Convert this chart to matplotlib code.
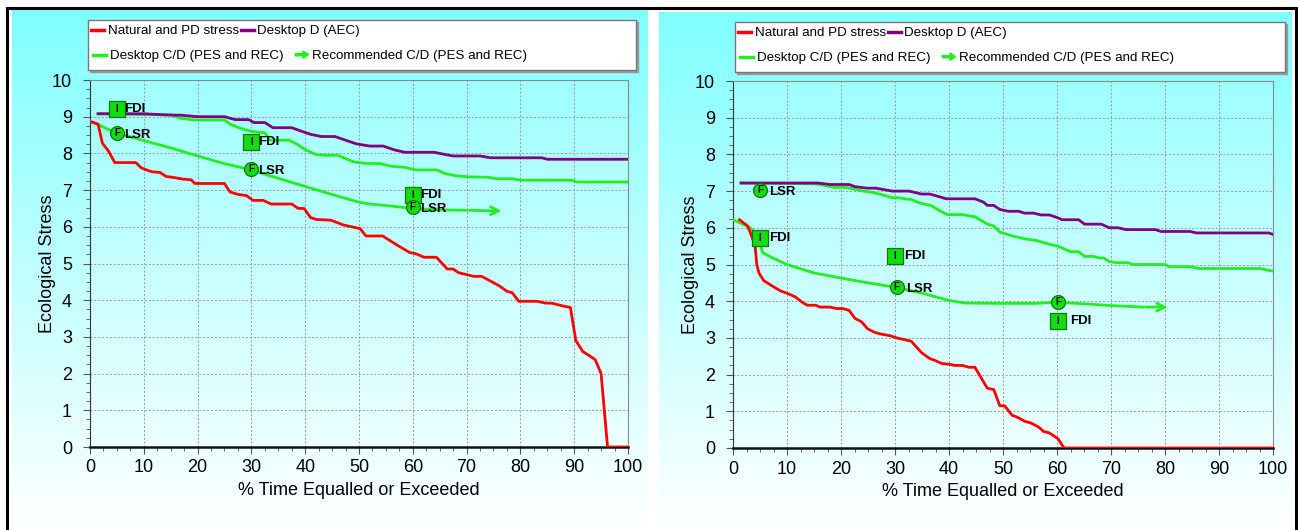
import numpy as np
import matplotlib.pyplot as plt
import matplotlib.patches as mpatches
from matplotlib.lines import Line2D
from matplotlib.legend_handler import HandlerPatch
from matplotlib.ticker import MultipleLocator

plt.rcParams['font.family'] = ['Liberation Sans', 'DejaVu Sans']

# ---- data: left panel ----
l_red_x = [0, 1.5, 2.3, 3.5, 4.6, 8.5, 9.6, 10.5, 11.5, 13, 14.2, 15.3, 17.2, 18.8, 19.5, 25, 26,
           27.6, 29.1, 30.3, 32.2, 33.7, 37.5, 38.7, 39.8, 41, 42.1, 44.8, 47.1, 50.2, 51.3, 54.4,
           57.1, 59.4, 60.5, 62.1, 64.4, 66.4, 67.5, 68.5, 71.3, 72.8, 74.7, 76.2, 77.4, 78.5, 79.7,
           83.1, 84.7, 85.8, 87.7, 89.3, 90.3, 91.6, 92.7, 93.9, 95, 96.2, 100]
l_red_y = [8.87, 8.8, 8.28, 8.05, 7.75, 7.75, 7.6, 7.55, 7.5, 7.48, 7.37, 7.35, 7.3, 7.28, 7.18,
           7.18, 6.95, 6.88, 6.85, 6.72, 6.72, 6.62, 6.62, 6.5, 6.5, 6.25, 6.2, 6.18, 6.05, 5.95,
           5.75, 5.75, 5.5, 5.3, 5.27, 5.17, 5.17, 4.85, 4.85, 4.75, 4.65, 4.65, 4.5, 4.38, 4.25,
           4.2, 3.97, 3.97, 3.92, 3.92, 3.85, 3.8, 2.9, 2.6, 2.5, 2.38, 2.0, 0, 0]
l_pur_x = [1.5, 10, 14, 17, 20, 25, 27, 29.5, 30.5, 32.5, 34, 37.5, 39, 41, 43, 45.5, 47.5, 49.5,
           52, 54.5, 56.5, 58.5, 64, 66, 67.5, 72.5, 74.5, 84, 85, 100]
l_pur_y = [9.08, 9.08, 9.05, 9.04, 9.0, 9.0, 8.92, 8.92, 8.84, 8.84, 8.7, 8.7, 8.62, 8.52, 8.46,
           8.46, 8.36, 8.26, 8.2, 8.2, 8.1, 8.03, 8.03, 7.97, 7.93, 7.93, 7.88, 7.88, 7.84, 7.84]
l_cd_x = [1.5, 15, 17, 19.5, 25, 26, 28, 30, 32.5, 33.5, 37, 38.5, 40, 42, 43.5, 46, 47.5, 49, 51,
          54, 56, 58.5, 60.5, 64.5, 66, 68, 70.5, 74, 75.5, 78.5, 80, 89.5, 90.5, 100]
l_cd_y = [9.08, 9.05, 8.95, 8.91, 8.91, 8.8, 8.68, 8.6, 8.56, 8.36, 8.36, 8.25, 8.1, 7.97, 7.95,
          7.95, 7.86, 7.77, 7.73, 7.72, 7.65, 7.62, 7.55, 7.55, 7.45, 7.39, 7.36, 7.35, 7.31,
          7.31, 7.27, 7.27, 7.22, 7.22]
l_rec_x = [0, 5, 10, 15, 20, 25, 30, 35, 40, 45, 50, 52, 55, 60, 65, 70, 77]
l_rec_y = [8.88, 8.55, 8.35, 8.15, 7.93, 7.72, 7.55, 7.32, 7.1, 6.88, 6.67, 6.62, 6.58, 6.5,
           6.46, 6.45, 6.43]
l_fdi_x = [5, 30, 60]
l_fdi_y = [9.2, 8.3, 6.86]
l_fdi_lab = ['FDI', 'FDI', 'FDI']
l_lsr_x = [5, 30, 60]
l_lsr_y = [8.56, 7.58, 6.53]
l_lsr_lab = ['LSR', 'LSR', 'LSR']

# ---- data: right panel ----
r_red_x = [1.2, 2.7, 3.4, 4.1, 4.4, 4.8, 5.7, 7.3, 8.8, 10.3, 11.5, 13, 13.8, 15.3, 16.1, 18,
           19.2, 20.3, 21.5, 22.6, 23.8, 24.9, 26.1, 27.2, 29.1, 30.3, 31.8, 33, 34.9, 36.4,
           37.5, 38.7, 40.2, 41, 42.5, 43.7, 44.8, 46, 47.1, 48.3, 49.4, 50.3, 51.7, 52.5, 54,
           55.2, 56.7, 57.5, 58.6, 60.2, 61.3, 100]
r_red_y = [6.22, 6.05, 5.8, 5.5, 5.0, 4.77, 4.56, 4.41, 4.28, 4.2, 4.12, 3.95, 3.89, 3.89, 3.84,
           3.84, 3.8, 3.8, 3.75, 3.53, 3.44, 3.25, 3.16, 3.11, 3.06, 3.0, 2.95, 2.91, 2.6,
           2.44, 2.38, 2.3, 2.28, 2.25, 2.25, 2.2, 2.2, 1.9, 1.63, 1.59, 1.15, 1.15, 0.89,
           0.85, 0.73, 0.68, 0.56, 0.45, 0.41, 0.25, 0.0, 0.0]
r_pur_x = [1.5, 15.7, 18, 21.5, 22.6, 24.9, 26.4, 29.5, 32.6, 34.9, 36.4, 37.9, 39.5, 44.8, 46.4,
           47.1, 48.3, 49.4, 51, 52.9, 54, 55.6, 57.1, 58.6, 60.2, 60.9, 64, 65.1, 68.2, 69.7,
           71.3, 72.8, 78.2, 79.3, 84.7, 85.8, 99.2, 100]
r_pur_y = [7.22, 7.22, 7.18, 7.18, 7.12, 7.08, 7.08, 7.0, 7.0, 6.92, 6.92, 6.86, 6.79, 6.79, 6.7,
           6.61, 6.61, 6.5, 6.45, 6.45, 6.4, 6.4, 6.35, 6.35, 6.27, 6.22, 6.22, 6.1, 6.1, 6.0,
           6.0, 5.95, 5.95, 5.9, 5.9, 5.86, 5.86, 5.82]
r_cd_x = [1.5, 15, 16.5, 18.8, 21, 24.1, 25.7, 27.6, 29.5, 30.6, 32.2, 32.9, 34.5, 36.8, 37.9,
          39.1, 39.8, 42.5, 44.8, 47.1, 48.3, 49.4, 50.2, 51.7, 54, 56.3, 58.6, 60.2, 61.7, 62.5,
          64, 65.1, 66.7, 67.8, 68.6, 69.7, 70.9, 73.2, 74, 80, 80.8, 84.7, 86.2, 97.7, 99.2, 100]
r_cd_y = [7.22, 7.2, 7.17, 7.1, 7.1, 7.0, 6.97, 6.9, 6.82, 6.82, 6.78, 6.78, 6.68, 6.6, 6.5, 6.4,
          6.36, 6.36, 6.3, 6.1, 6.05, 5.88, 5.85, 5.78, 5.7, 5.65, 5.55, 5.5, 5.4, 5.35, 5.35,
          5.22, 5.22, 5.18, 5.18, 5.08, 5.05, 5.05, 5.0, 5.0, 4.94, 4.94, 4.89, 4.89, 4.84, 4.82]
r_rec_x = [0, 3, 4.5, 5.5, 7, 10, 15, 20, 25, 30, 35, 40, 43, 50, 56, 60, 65, 70, 76, 81]
r_rec_y = [6.22, 6.02, 5.8, 5.32, 5.2, 5.0, 4.77, 4.63, 4.5, 4.38, 4.22, 4.02, 3.95, 3.94, 3.94,
           3.97, 3.93, 3.88, 3.84, 3.84]
r_fdi_x = [5, 30, 60.2]
r_fdi_y = [5.72, 5.22, 3.45]
r_fdi_lab = ['FDI', 'FDI', 'FDI']
r_lsr_x = [5, 30.3, 60.2]
r_lsr_y = [7.02, 4.38, 3.97]
r_lsr_lab = ['LSR', 'LSR', '']

labels = ['Natural and PD stress', 'Desktop D (AEC)',
          'Desktop C/D (PES and REC)', 'Recommended C/D (PES and REC)']
RED, PUR, GRN = '#ff0000', '#800080', '#22ee22'

W, H = 1298, 530
fig = plt.figure(figsize=(W / 100, H / 100), dpi=100)


def frect(x0, y0, x1, y1):
    # pixel box (top-left origin) -> figure rect
    return [x0 / W, 1 - y1 / H, (x1 - x0) / W, (y1 - y0) / H]


# gradient panels
grad = np.linspace(0, 1, 256).reshape(-1, 1)
for box in [(12, 10, 648, 530), (659, 12, 1292, 530)]:
    bg = fig.add_axes(frect(*box), zorder=-10)
    top = np.array([0x80, 0xff, 0xff]) / 255
    img = top[None, None, :] * (1 - grad[:, :, None]) + grad[:, :, None]
    bg.imshow(img, aspect='auto', extent=(0, 1, 0, 1))
    bg.set_axis_off()

# black frame lines
for xs, ys in [([7, 1297], [8, 8]), ([7, 7], [8, 530]), ([1296, 1296], [8, 530])]:
    fig.add_artist(Line2D([x / W for x in xs], [1 - y / H for y in ys],
                          color='black', lw=2.2, transform=fig.transFigure))


def arrow_handle(legend, orig_handle, xdescent, ydescent, width, height, fontsize):
    return mpatches.FancyArrow(0, height / 2, width, 0, width=1.6, head_width=height * 0.8,
                               head_length=height * 0.6, length_includes_head=True, color=GRN)


def panel(rect, legbox, red, pur, cd, rec, fdi, lsr, gap):
    ax = fig.add_axes(frect(*rect))
    ax.set_facecolor((1, 1, 1, 0.12))
    ax.plot(cd[0], cd[1], color=GRN, lw=2, zorder=3)
    ax.plot(rec[0][:-1], rec[1][:-1], color=GRN, lw=2, zorder=3)
    ax.annotate('', xy=(rec[0][-1], rec[1][-1]), xytext=(rec[0][-2], rec[1][-2]),
                arrowprops=dict(arrowstyle='->', color=GRN, lw=2, mutation_scale=14), zorder=3)
    ax.plot(pur[0], pur[1], color=PUR, lw=2, zorder=4)
    ax.plot(red[0], red[1], color=RED, lw=2, zorder=5)

    for (xs, ys, labs, mk, letter, dy) in [(fdi[0], fdi[1], fdi[2], 's', 'I', 0),
                                           (lsr[0], lsr[1], lsr[2], 'o', 'F', -1.5)]:
        ax.scatter(xs, ys, marker=mk, s=120 if mk == 's' else 100, color='#11dd11',
                   edgecolor='#117711', linewidth=0.9, zorder=6)
        for i, (x, y) in enumerate(zip(xs, ys)):
            ax.text(x, y, letter, ha='center', va='center', fontsize=7, fontweight='bold',
                    zorder=7)
            ax.annotate(labs[i], (x, y), xytext=(gap[i], dy), textcoords='offset points',
                        ha='left', va='center', fontsize=9.5, fontweight='bold', zorder=7)

    ax.set_xlim(0, 100)
    ax.set_ylim(0, 10)
    ax.xaxis.set_major_locator(MultipleLocator(10))
    ax.xaxis.set_minor_locator(MultipleLocator(2.5))
    ax.yaxis.set_major_locator(MultipleLocator(1))
    ax.yaxis.set_minor_locator(MultipleLocator(0.25))
    ax.tick_params(which='both', direction='out', color='#555555', labelsize=13)
    ax.tick_params(which='major', length=5)
    ax.tick_params(axis='y', which='major', pad=8)
    ax.tick_params(axis='x', which='major', pad=4)
    ax.tick_params(which='minor', length=3)
    ax.grid(True, which='major', color='#9a9a9a', lw=0.7, ls=(0, (2, 2)))
    for s in ['top', 'right']:
        ax.spines[s].set_color('#8a8a8a')
    ax.spines['left'].set_color('#333333')
    ax.spines['bottom'].set_color('#111111')
    ax.spines['bottom'].set_linewidth(1.8)
    ax.set_xlabel('% Time Equalled or Exceeded', fontsize=13, labelpad=4)
    ax.set_ylabel('Ecological Stress', fontsize=13, labelpad=-3)

    # legend box with shadow
    x0, y0, x1, y1 = legbox
    fig.add_artist(mpatches.Rectangle((x0 / W + 2 / W, 1 - (y1 + 2) / H), (x1 - x0) / W,
                                      (y1 - y0) / H, transform=fig.transFigure,
                                      color='#999999', zorder=1))
    fig.add_artist(mpatches.Rectangle((x0 / W, 1 - y1 / H), (x1 - x0) / W, (y1 - y0) / H,
                                      transform=fig.transFigure, facecolor='white',
                                      edgecolor='#777777', lw=1, zorder=2))
    h1 = [Line2D([], [], color=RED, lw=2.5), Line2D([], [], color=PUR, lw=2.5)]
    h2 = [Line2D([], [], color=GRN, lw=2.5), mpatches.FancyArrow(0, 0, 1, 0, color=GRN)]
    common = dict(loc='upper left', bbox_transform=fig.transFigure, frameon=False,
                  handlelength=1.0, handletextpad=0.25, borderpad=0,
                  borderaxespad=0, ncol=2, prop={'size': 9.6})
    l1 = fig.legend(h1, labels[:2], bbox_to_anchor=((x0 + 3) / W, 1 - (y0 + 5) / H),
                    columnspacing=0.15, **common)
    l2 = fig.legend(h2, labels[2:], bbox_to_anchor=((x0 + 5) / W, 1 - (y0 + 30) / H),
                    columnspacing=0.9,
                    handler_map={mpatches.FancyArrow: HandlerPatch(patch_func=arrow_handle)},
                    **common)
    l1.set_zorder(3)
    l2.set_zorder(3)
    return ax


panel((90, 80, 628, 447), (88, 20, 636, 70),
      (l_red_x, l_red_y), (l_pur_x, l_pur_y), (l_cd_x, l_cd_y), (l_rec_x, l_rec_y),
      (l_fdi_x, l_fdi_y, l_fdi_lab), (l_lsr_x, l_lsr_y, l_lsr_lab), [5, 5, 5])
panel((733, 81, 1273, 448), (735, 22, 1285, 72),
      (r_red_x, r_red_y), (r_pur_x, r_pur_y), (r_cd_x, r_cd_y), (r_rec_x, r_rec_y),
      (r_fdi_x, r_fdi_y, r_fdi_lab), (r_lsr_x, r_lsr_y, r_lsr_lab), [6.5, 6.5, 9])

fig.savefig('out.png', dpi=100)
